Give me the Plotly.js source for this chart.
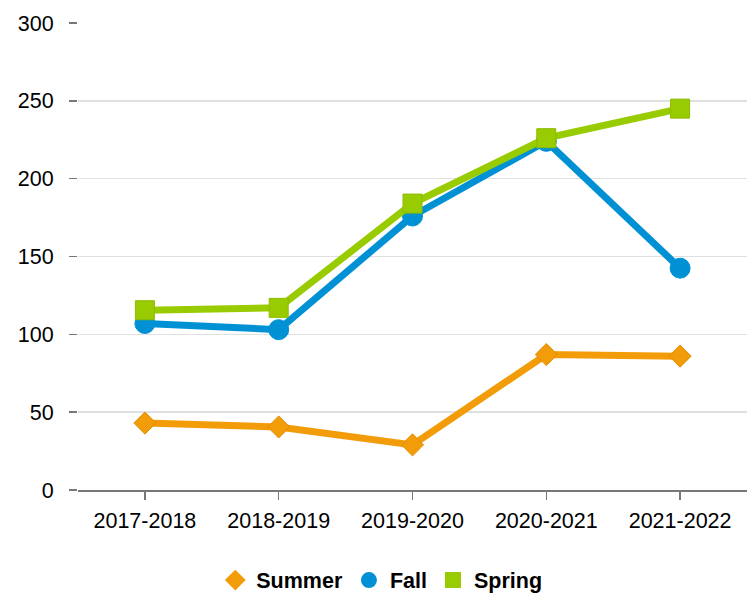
<!DOCTYPE html>
<html>
<head>
<meta charset="utf-8">
<script src="https://cdn.plot.ly/plotly-3.0.1.min.js"></script>
<style>html,body{margin:0;padding:0;background:#fff;}#chart{width:754px;height:593px;}</style>
</head>
<body>
<div id="chart"></div>
<script>
const categories = ["2017-2018", "2018-2019", "2019-2020", "2020-2021", "2021-2022"];
const summer = [43, 40.5, 29, 87, 86];
const fall = [107, 103, 176, 224, 142.5];
const spring = [115.5, 117, 184, 226, 245];
const yTicks = [0, 50, 100, 150, 200, 250, 300];

const series = [
  {name: "Summer", y: summer, color: "#F39C0A", edge: "#E08E00", symbol: "diamond", size: 17},
  {name: "Fall", y: fall, color: "#0091D5", edge: "#0091D5", symbol: "circle", size: 20},
  {name: "Spring", y: spring, color: "#99CC00", edge: "#8DBB00", symbol: "square", size: 19}
];

const traces = [];
series.forEach(s => {
  traces.push({name: s.name, x: categories, y: s.y, type: "scatter", mode: "lines+markers",
    showlegend: false, line: {color: s.color, width: 7},
    marker: {symbol: s.symbol, size: s.size, color: s.color, line: {color: s.edge, width: 1}}});
});
series.forEach(s => {
  traces.push({name: s.name, x: [null], y: [null], type: "scatter", mode: "markers",
    showlegend: true, marker: {symbol: s.symbol, size: 18, color: s.color}});
});

const layout = {
  width: 754, height: 593,
  margin: {l: 78, r: 7, t: 23, b: 103, autoexpand: false},
  paper_bgcolor: "#fff", plot_bgcolor: "#fff",
  font: {family: "Liberation Sans, Arial, sans-serif", size: 21.5, color: "#000"},
  showlegend: true,
  legend: {orientation: "h", xref: "container", x: 0.505, xanchor: "center",
           y: -0.193, yanchor: "middle",
           font: {size: 21.5, color: "#000", weight: "bold"}, itemwidth: 32, traceorder: "normal"},
  xaxis: {type: "category", range: [-0.5, 4.5], showgrid: false, showline: true,
          linecolor: "#777", linewidth: 2, ticks: "outside", ticklen: 8, tickcolor: "#777",
          tickwidth: 1.5, tickfont: {size: 21.5}, ticklabelstandoff: 2, zeroline: false},
  yaxis: {range: [0, 300], tickvals: yTicks, showgrid: true, gridcolor: "#E0E0E0", gridwidth: 1.5,
          showline: false, zeroline: false, ticks: "outside", ticklen: 8, tickcolor: "#777",
          tickwidth: 1.5, tickfont: {size: 21.5}, ticklabelstandoff: 11}
};

Plotly.newPlot("chart", traces, layout, {displayModeBar: false, staticPlot: true});
</script>
</body>
</html>
